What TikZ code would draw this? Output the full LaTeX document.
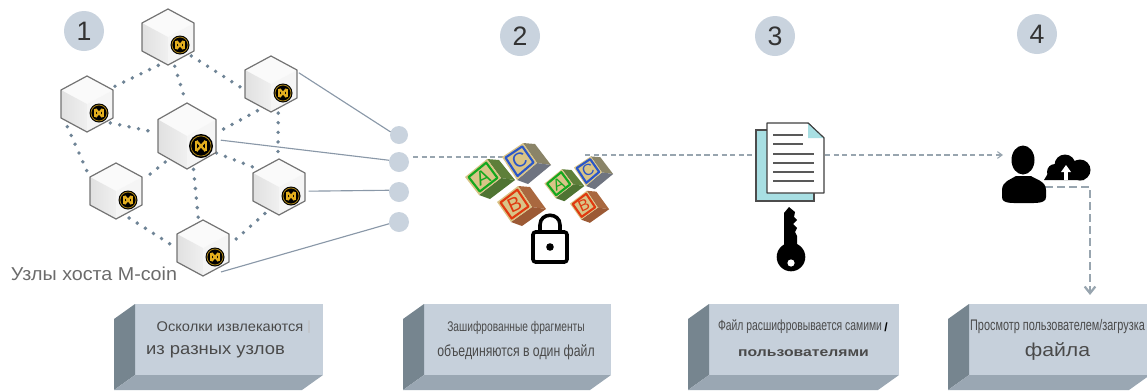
\documentclass[tikz,border=0pt]{standalone}
\usepackage{fontspec}
\usepackage{graphicx}
\setmainfont{Liberation Sans}
\usetikzlibrary{arrows.meta,calc}
\definecolor{hubc}{HTML}{C9D3DE}
\definecolor{dotc}{HTML}{6F8496}
\definecolor{linec}{HTML}{8A98A8}
\definecolor{dashc}{HTML}{98A5AF}
\definecolor{frontc}{HTML}{C6D0DB}
\definecolor{leftc}{HTML}{76858F}
\definecolor{botc}{HTML}{9AA7B3}
\definecolor{goldc}{HTML}{E3AE1E}
\definecolor{tanc}{HTML}{D9C487}
\definecolor{txtc}{HTML}{4A4A4A}
\definecolor{tealc}{HTML}{A8DFE3}
\definecolor{blockA}{HTML}{14A81E}
\definecolor{blockB}{HTML}{E03A10}
\definecolor{blockC}{HTML}{2A56C8}
\definecolor{sideA}{HTML}{5E7F3A}
\definecolor{sideAb}{HTML}{4F7433}
\definecolor{sideB}{HTML}{A9683F}
\definecolor{sideBb}{HTML}{9C5A35}
\definecolor{sideC}{HTML}{8A8468}
\definecolor{sideCb}{HTML}{6F7480}
\tikzset{
  x=0.75pt,y=-0.75pt,
  cubehit/.style={circle,inner sep=0pt,outer sep=0pt,minimum size=#1*0.75pt},
  hub/.style={circle,fill=hubc,inner sep=0pt,outer sep=0pt,minimum size=#1*0.75pt},
  numc/.style={circle,fill=hubc,inner sep=0pt,minimum size=40*0.75pt,text=black!80,font=\fontsize{20}{24}\selectfont},
  dots/.style={dotc,line width=2.9pt,line cap=round,dash pattern=on 0pt off 7.2pt},
  wire/.style={linec,line width=0.85pt},
  dashline/.style={dashc,line width=0.8pt,dash pattern=on 4pt off 2.4pt},
  dashthick/.style={dashc,line width=1.7pt,dash pattern=on 6pt off 3pt},
  txt/.style={inner sep=0pt,outer sep=0pt,text=txtc},
}
\newcommand\fitw[3]{{\fontsize{#2}{#2}\selectfont\resizebox{#1pt}{\height}{#3}}}
% cube drawn on the invisible node #1: half width #2, half height #3, coin radius #4, coin offset #5,#6
\newcommand\mcube[6]{%
\begin{scope}[shift={(#1)}]
  \fill[white!98!black] (0,-#3) -- (#2,-0.5*#3) -- (0,0) -- (-#2,-0.5*#3) -- cycle;
  \shade[left color=black!12,right color=black!6] (-#2,-0.5*#3) -- (0,0) -- (0,#3) -- (-#2,0.5*#3) -- cycle;
  \fill[white!96!black] (#2,-0.5*#3) -- (0,0) -- (0,#3) -- (#2,0.5*#3) -- cycle;
  \draw[black!55,line width=0.9pt,line join=round] (0,-#3) -- (#2,-0.5*#3) -- (#2,0.5*#3) -- (0,#3) -- (-#2,0.5*#3) -- (-#2,-0.5*#3) -- cycle;
  \begin{scope}[shift={(#5,#6)}]
    \fill[black] (0,0) circle[radius=#4];
    \draw[goldc!75!black,line width=0.6pt] (0,0) circle[radius=0.84*#4];
    \draw[goldc,line width=1.7pt] (-0.38*#4,-0.42*#4) -- (0.38*#4,0.42*#4) (0.38*#4,-0.42*#4) -- (-0.38*#4,0.42*#4);
    \draw[goldc,line width=1pt] (-0.42*#4,-0.42*#4) -- (-0.42*#4,0.42*#4) (0.42*#4,-0.42*#4) -- (0.42*#4,0.42*#4);
  \end{scope}
\end{scope}}
% toy block: four face corners, letter, letter colour, side colours
\newcommand\toyblock[8]{%
  \coordinate (p1) at #1; \coordinate (p2) at #2; \coordinate (p3) at #3; \coordinate (p4) at #4;
  \coordinate (pc) at ($(p1)!.5!(p3)$);
  \fill[#7] (p2) -- (p3) -- ($(p3)+(14,2)$) -- ($(p2)+(12,1)$) -- cycle;
  \fill[#8] (p4) -- (p3) -- ($(p3)+(14,2)$) -- ($(p4)+(11,4)$) -- cycle;
  \fill[tanc] (p1) -- (p2) -- (p3) -- (p4) -- cycle;
  \draw[#6,line width=1.6pt,line join=round] ($(pc)!.8!(p1)$) -- ($(pc)!.8!(p2)$) -- ($(pc)!.8!(p3)$) -- ($(pc)!.8!(p4)$) -- cycle;
  \node[inner sep=0pt,rotate=25,transform shape,text=#6,font=\fontsize{15}{15}\selectfont\rmfamily] at (pc) {#5};
}
\newcommand\toyset{%
  \toyblock{(502,157)}{(523,143)}{(537,163)}{(517,180)}{C}{blockC}{sideC}{sideCb}
  \toyblock{(465,177)}{(487,159)}{(501,178)}{(479,195)}{A}{blockA}{sideA}{sideAb}
  \toyblock{(497,202)}{(518,186)}{(532,207)}{(511,222)}{B}{blockB}{sideB}{sideBb}
}
% 3D label box: left x, front x1
\newcommand\labelbox[2]{%
  \fill[frontc] (#1+21,304) rectangle (#2,375);
  \fill[leftc] (#1+21,304) -- (#1,319) -- (#1,390) -- (#1+21,375) -- cycle;
  \fill[botc] (#1+21,375) -- (#2,375) -- (#2-21,390) -- (#1,390) -- cycle;
}
\begin{document}
\begin{tikzpicture}
\useasboundingbox (0,0) rectangle (1147,390);

% cube anchors
\node[cubehit=60] (cTop) at (168,37) {};
\node[cubehit=60] (cLeft) at (87,104) {};
\node[cubehit=60] (cRT) at (271,84) {};
\node[cubehit=68] (cMid) at (187,136) {};
\node[cubehit=60] (cLL) at (116,191) {};
\node[cubehit=60] (cRL) at (279,187) {};
\node[cubehit=60] (cBot) at (203,248) {};

% hubs
\node[hub=18] (h1) at (399,135) {};
\node[hub=20] (h2) at (399,162) {};
\node[hub=20] (h3) at (399,192) {};
\node[hub=20] (h4) at (399,222) {};

% dotted mesh
\draw[dots] (cTop.251) -- (cLeft.33);
\draw[dots] (cTop.283) -- (cMid.92);
\draw[dots] (cTop.321) -- (cRT.187);
\draw[dots] (cLeft.321) -- (cMid.173);
\draw[dots] (cRT.243) -- (cMid.9);
\draw[dots] (cLeft.229) -- (cLL.152);
\draw[dots] (cMid.230) -- (cLL.23);
\draw[dots] (cMid.330) -- (cRL.141);
\draw[dots] (cRT.284) -- (cRL.92);
\draw[dots] (cMid.281) -- (cBot.99);
\draw[dots] (cLL.296) -- (cBot.176);
\draw[dots] (cRL.242) -- (cBot.11);

% wires
\draw[wire] (cRT.22) -- (h1.160);
\draw[wire] (cMid.353) -- (h2.170);
\draw[wire] (cRL.352) -- (h3.170);
\draw[wire] (cBot.307) -- (h4.190);

% cubes
\mcube{cTop}{26}{28}{9.5}{12}{8}
\mcube{cLeft}{26}{28}{9.5}{12}{9}
\mcube{cRT}{26}{28}{9.5}{12}{9}
\mcube{cMid}{29}{33}{12}{14}{10}
\mcube{cLL}{26}{28}{9.5}{12}{9}
\mcube{cRL}{26}{28}{9.5}{12}{9}
\mcube{cBot}{26}{28}{9.5}{12}{9}

% numbers
\node[numc] (n1) at (84,31) {1};
\node[numc] (n2) at (520,36) {2};
\node[numc] (n3) at (775,36) {3};
\node[numc] (n4) at (1037,34) {4};

% dashed connectors
\coordinate (blockL) at (503,157);
\coordinate (blockR) at (585,155);
\coordinate (docL) at (756,155);
\coordinate (docR) at (825,155);
\coordinate (userL) at (1003,155);
\coordinate (userB) at (1045,187);
\coordinate (turn) at (1090,187);
\coordinate (box4) at (1090,295);
\draw[dashline] (h2) ++(14,-5) -- (blockL);
\draw[dashline] (blockR) -- (docL);
\draw[dashline,-{Straight Barb[length=3.5pt,width=5pt]}] (docR) -- (userL);
\draw[dashthick,-{Straight Barb[length=5pt,width=8pt]}] (userB) -- (turn) -- (box4);

% toy blocks
\toyset
\begin{scope}[shift={(172.3,42)},scale=0.8]
\toyset
\end{scope}

% lock
\draw[black,line width=2.7pt,rounded corners=2pt] (533,232) rectangle (567,262);
\draw[black,line width=2.7pt] (540,232) -- (540,225) .. controls (540,212) and (560,212) .. (560,225) -- (560,232);
\fill[black] (550,247) circle[radius=3.8];

% document
\draw[black!70,fill=tealc,line width=0.9pt] (756,130) rectangle (814,201);
\draw[black!75,fill=white,line width=1pt,line join=round] (767,123) -- (808,123) -- (824,138) -- (824,193) -- (767,193) -- cycle;
\fill[tealc] (808,123) -- (824,138) -- (808,138) -- cycle;
\draw[black!75,line width=0.7pt] (808,123) -- (824,138);
\foreach \yy in {135,144} \draw[black!65,line width=1.2pt] (773,\yy) -- (803,\yy);
\foreach \yy in {154,163,172,181} \draw[black!65,line width=1.2pt] (773,\yy) -- (814,\yy);

% key
\fill[black] (789,207) -- (795,212) -- (794,217) -- (797,220) -- (793,224) -- (797,228) -- (795,232) -- (797,236) -- (797,250) -- (784,250) -- (784,213) -- cycle;
\fill[black] (791,257) circle[radius=14.3];
\fill[white] (791,263) circle[radius=3.6];

% user and cloud
\fill[black] (1023,160) ellipse[x radius=11.5,y radius=14.5];
\fill[black] (1002,190) .. controls (1002,181) and (1012,179) .. (1016,176) -- (1031,176) .. controls (1035,179) and (1046,181) .. (1046,190) -- (1046,197) .. controls (1046,204) and (1035,203) .. (1024,203) .. controls (1012,203) and (1002,204) .. (1002,197) -- cycle;
\fill[black] (1065,165) circle[radius=10.5];
\fill[black] (1055,172) circle[radius=8];
\fill[black] (1080,170) circle[radius=10.5];
\fill[black] (1044,180) -- (1050,170) -- (1084,170) -- (1084,180) -- cycle;
\fill[white] (1064,172) rectangle (1068,180);
\fill[white] (1061,172) -- (1066,165) -- (1071,172) -- cycle;

% label boxes
\labelbox{114}{323}
\labelbox{403}{611}
\labelbox{688}{899}
\labelbox{948}{1150}

% texts
\node[txt,text=black!58] (host) at (94,274) {\fitw{124.5}{14}{Узлы хоста M-coin}};
\node[txt] (t1a) at (230,327) {\fitw{110}{10.5}{Осколки извлекаются}};
\node[txt,text=black!25] (t1bar) at (309,327) {\fontsize{10}{10}\selectfont|};
\node[txt] (t1b) at (215.5,352) {\fitw{104}{12.5}{из разных узлов}};
\node[txt] (t2a) at (516,328) {\fitw{103}{10.5}{Зашифрованные фрагменты}};
\node[txt] (t2b) at (516,352) {\fitw{118}{12}{объединяются в один файл}};
\node[txt] (t3a) at (800,327) {\fitw{123}{11}{Файл расшифровывается самими}};
\node[txt,text=black] (t3s) at (886,327) {\fontsize{9}{9}\selectfont\bfseries /};
\node[txt] (t3b) at (803.5,353) {\fitw{98}{9.5}{\bfseries пользователями}};
\node[txt] (t4a) at (1057.5,327) {\fitw{131}{11.5}{Просмотр пользователем/загрузка}};
\node[txt] (t4b) at (1057.5,352) {\fitw{49}{14}{файла}};
\end{tikzpicture}
\end{document}
